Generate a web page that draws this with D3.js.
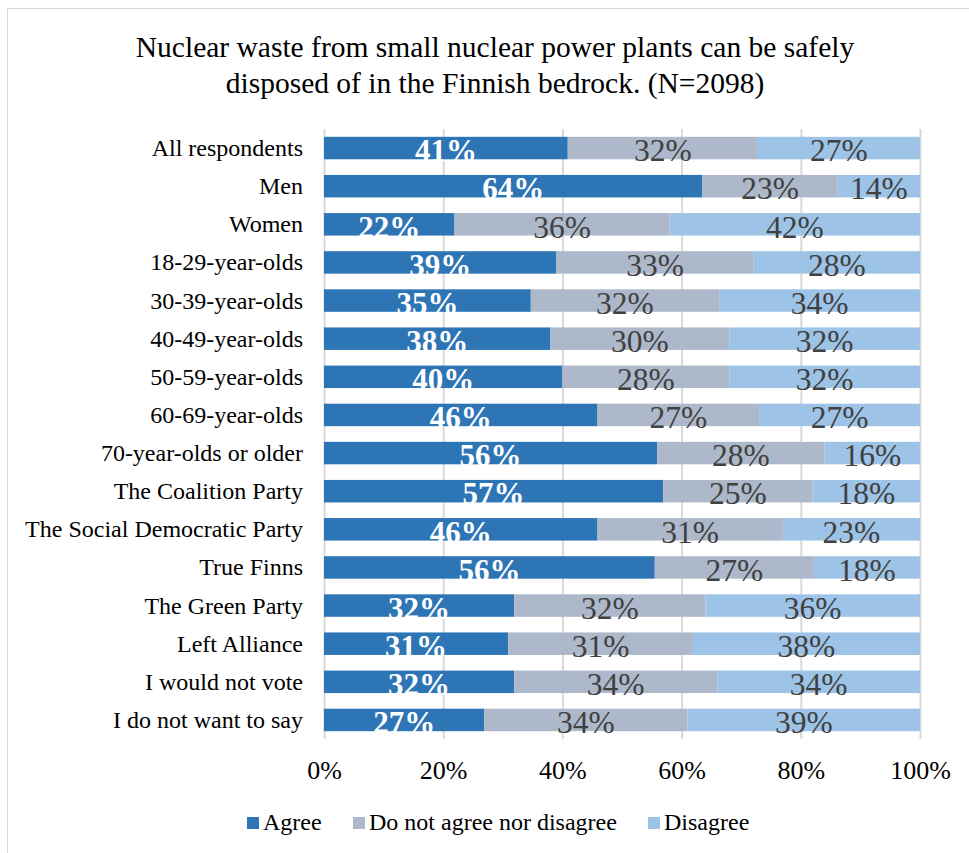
<!DOCTYPE html>
<html>
<head>
<meta charset="utf-8">
<script src="https://cdn.jsdelivr.net/npm/d3@7"></script>
<style>
  body { margin: 0; background: #fff; }
  svg text { font-family: "Times New Roman", "Liberation Serif", Tinos, "DejaVu Serif", serif; }
</style>
</head>
<body>
<svg></svg>
<script>
const categories = ['All respondents', 'Men', 'Women', '18-29-year-olds', '30-39-year-olds',
	'40-49-year-olds', '50-59-year-olds', '60-69-year-olds', '70-year-olds or older',
	'The Coalition Party', 'The Social Democratic Party', 'True Finns', 'The Green Party',
	'Left Alliance', 'I would not vote', 'I do not want to say'];
const agree    = [40.9, 63.5, 21.9, 39.0, 34.7, 38.0, 40.0, 45.9, 55.9, 56.9, 45.9, 55.5, 31.9, 30.9, 31.9, 26.9];
const neutral  = [31.9, 22.7, 36.1, 33.1, 31.6, 30.0, 28.0, 27.1, 28.1, 25.1, 31.1, 26.7, 32.1, 31.0, 34.1, 34.1];
const disagree = [27.2, 13.8, 42.0, 27.9, 33.7, 32.0, 32.0, 27.0, 16.0, 18.0, 23.0, 17.8, 36.0, 38.1, 34.0, 39.0];
const seriesNames = ['Agree', 'Do not agree nor disagree', 'Disagree'];
const xTicks = [0, 20, 40, 60, 80, 100];

const colors = ['#2E75B6', '#ADB9CA', '#9DC3E6'];
const serif = '"Times New Roman", "Liberation Serif", Tinos, "DejaVu Serif", serif';

const svg = d3.select('svg')
	.attr('width', 969)
	.attr('height', 853)
	.attr('font-family', serif);

// chart border
svg.append('rect')
	.attr('x', 7.5)
	.attr('y', 8.5)
	.attr('width', 980)
	.attr('height', 860)
	.attr('fill', 'none')
	.attr('stroke', '#d9d9d9');

const margin = { top: 129, left: 324, right: 49, bottom: 114 };
const xScale = d3.scaleLinear()
	.domain([0, 100])
	.range([margin.left, 969 - margin.right]);
const yScale = d3.scaleBand()
	.domain(categories)
	.range([margin.top, 853 - margin.bottom])
	.paddingInner(0.41)
	.paddingOuter(0.205);

const title = svg.append('text')
	.attr('text-anchor', 'middle')
	.attr('font-size', 29.5)
	.attr('fill', '#000');
title.append('tspan').attr('x', 495).attr('y', 57)
	.text('Nuclear waste from small nuclear power plants can be safely');
title.append('tspan').attr('x', 495).attr('y', 93)
	.text('disposed of in the Finnish bedrock. (N=2098)');

// gridlines + axis
const xAxis = d3.axisBottom(xScale)
	.tickValues(xTicks)
	.tickSize(-(853 - margin.bottom - margin.top))
	.tickFormat(d => d + '%')
	.tickPadding(22);
const xAxisG = svg.append('g')
	.attr('transform', `translate(0, ${853 - margin.bottom})`)
	.call(xAxis)
	.attr('font-family', serif);
xAxisG.select('.domain').remove();
xAxisG.selectAll('line').attr('stroke', '#d9d9d9').attr('stroke-width', 2);
xAxisG.selectAll('text')
	.attr('font-size', 26)
	.attr('fill', '#000');

const rows = categories.map((c, i) => {
	const vals = [agree[i], neutral[i], disagree[i]];
	let x0 = 0;
	return vals.map((v, k) => {
		const seg = { cat: c, k: k, v: v, x0: x0, x1: x0 + v };
		x0 += v;
		return seg;
	});
});

const segs = svg.append('g').selectAll('g')
	.data(rows)
	.enter().append('g')
	.selectAll('g')
	.data(d => d)
	.enter().append('g');

segs.append('rect')
	.attr('x', d => xScale(d.x0))
	.attr('y', d => yScale(d.cat))
	.attr('width', d => xScale(d.x1) - xScale(d.x0))
	.attr('height', yScale.bandwidth())
	.attr('fill', d => colors[d.k]);

segs.append('text')
	.attr('x', d => xScale((d.x0 + d.x1) / 2))
	.attr('y', d => yScale(d.cat) + yScale.bandwidth() + 2)
	.attr('text-anchor', 'middle')
	.attr('font-size', d => d.k === 0 ? 31 : 31.5)
	.attr('font-weight', d => d.k === 0 ? 'bold' : 'normal')
	.attr('fill', d => d.k === 0 ? '#fff' : '#404040')
	.text(d => Math.round(d.v) + '%');

// category labels
svg.append('g').selectAll('text')
	.data(categories)
	.enter().append('text')
	.attr('x', 303)
	.attr('y', d => yScale(d) + yScale.bandwidth() / 2 + 8)
	.attr('text-anchor', 'end')
	.attr('font-size', 24)
	.attr('fill', '#000')
	.text(d => d);

// legend
const legendX = [247, 353, 648];
const legend = svg.append('g').selectAll('g')
	.data(seriesNames)
	.enter().append('g')
	.attr('transform', (d, i) => `translate(${legendX[i]}, 817)`);
legend.append('rect')
	.attr('width', 12)
	.attr('height', 12)
	.attr('fill', (d, i) => colors[i]);
legend.append('text')
	.attr('x', 16)
	.attr('y', 13)
	.attr('font-size', 24)
	.attr('fill', '#000')
	.text(d => d);
</script>
</body>
</html>
